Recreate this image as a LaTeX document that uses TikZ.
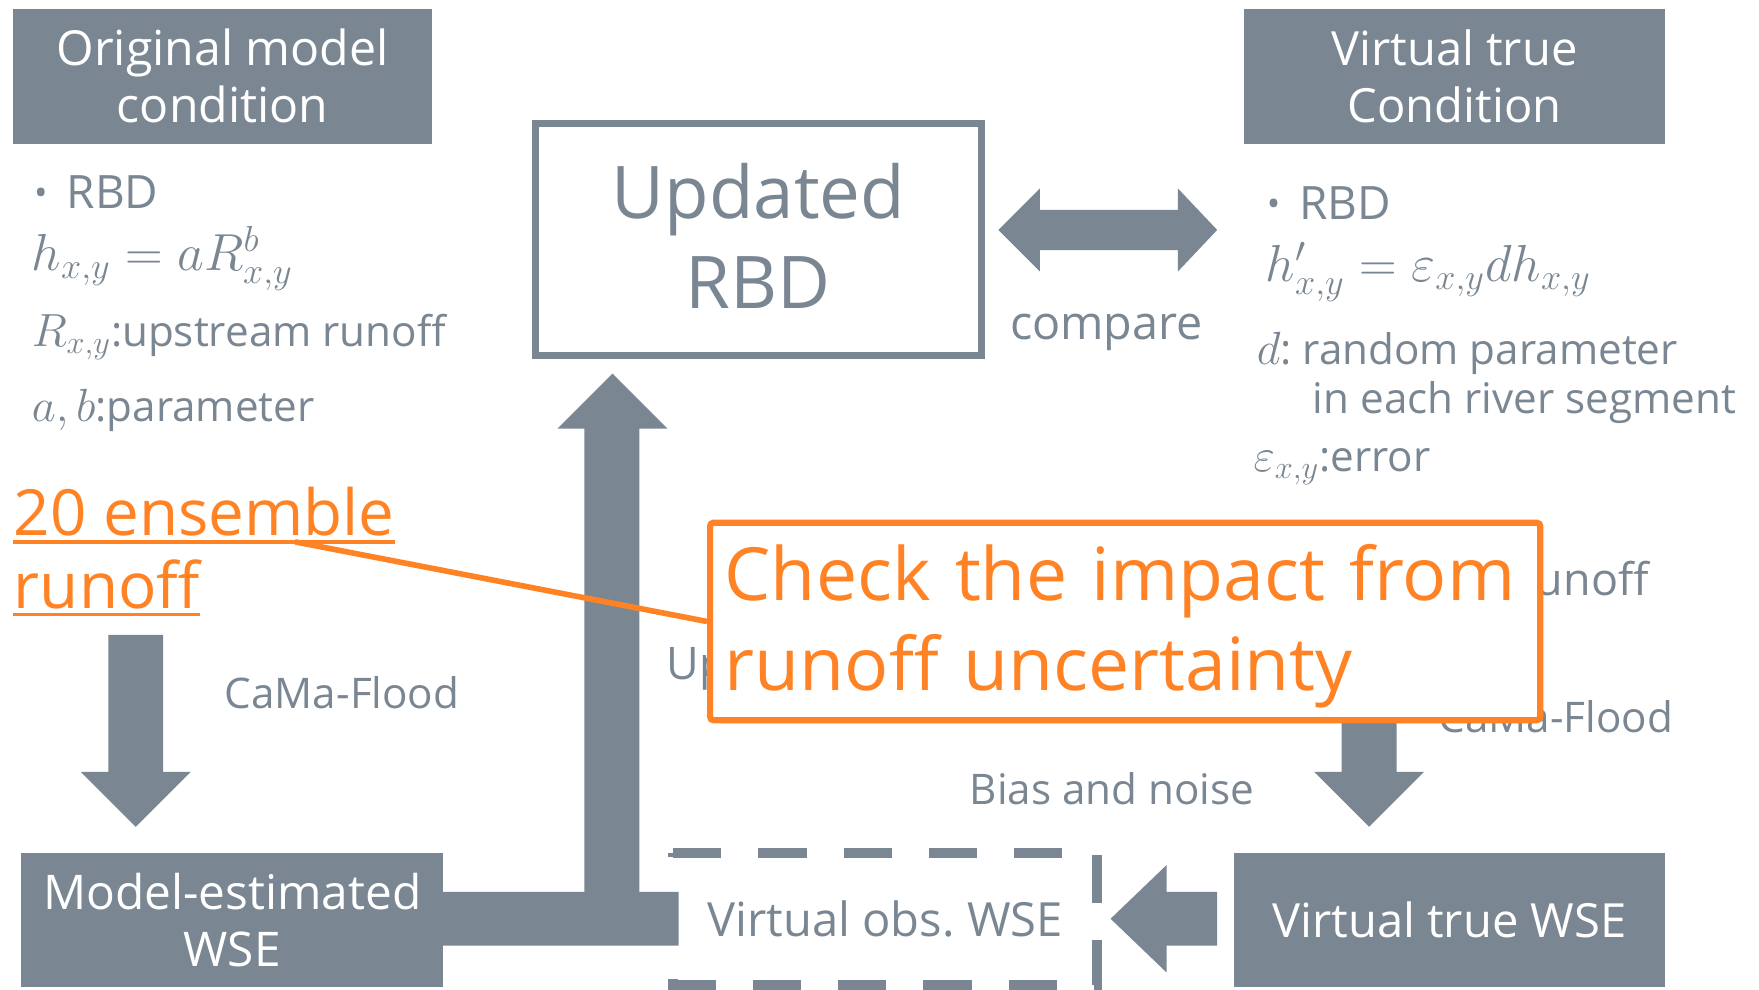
\documentclass[tikz,border=0pt]{standalone}
\usepackage{graphicx}
\usepackage{fontspec}
\setmainfont{Open Sans}
\usetikzlibrary{calc}
\definecolor{slate}{RGB}{122,135,147}
\definecolor{tangerine}{RGB}{255,131,36}
\newcommand\fsz[2]{\fontsize{#1pt}{#2pt}\selectfont}
\newcommand\rbdbullet{\makebox[14.5pt][l]{\raisebox{1.5pt}{\fontsize{16pt}{16pt}\selectfont •}}}
% formulas are set a little larger than the surrounding text
\newcommand\fm[1]{{\fontsize{20.7pt}{24pt}\selectfont$#1$}}
\newcommand\fmbig[1]{\scalebox{1.12}{\fm{#1}}}
\frenchspacing

\begin{document}
\begin{tikzpicture}[x=0.5pt,y=-0.5pt,
  graybox/.style={fill=slate,text=white,inner sep=0pt,align=center},
  bodytext/.style={text=slate,inner sep=0pt,anchor=base west},
  blockarrow/.style={fill=slate},
]
\useasboundingbox (0,0) rectangle (1568,882);
\fill[white] (0,0) rectangle (1568,882);

% headline boxes
\node[graybox,minimum width=186.5pt,minimum height=60pt,font=\fsz{21.5}{25.5}] (orig) at (198.5,68) {Original model\\condition};
\node[graybox,minimum width=187.5pt,minimum height=60pt,font=\fsz{21}{25.5}] (vtc) at (1296.5,68) {Virtual true\\Condition};
\node[graybox,minimum width=188pt,minimum height=60pt,font=\fsz{21.3}{25.5}] (mwse) at (207,820) {Model-estimated\\WSE};
\node[graybox,minimum width=192pt,minimum height=60pt,font=\fsz{21}{25}] (vtwse) at (1292,820) {Virtual true WSE};

% left column
\node[bodytext,font=\fsz{20.5}{24}] (rbdL) at (30,186) {\rbdbullet RBD};
\node[bodytext,font=\fsz{20.5}{24}] (fL) at (28,241) {\fmbig{h_{x,y} = aR^{b}_{x,y}}};
\node[bodytext,font=\fsz{18.8}{22}] (rL) at (28,309) {\fm{R_{x,y}}:upstream runoff};
\node[bodytext,font=\fsz{18.8}{22}] (abL) at (28,376) {\fm{a,b}:parameter};

% right column
\node[bodytext,font=\fsz{20.5}{24}] (rbdR) at (1129,196) {\rbdbullet RBD};
\node[bodytext,font=\fsz{20.5}{24}] (fR) at (1128,251) {\fmbig{h'_{x,y} = \varepsilon_{x,y} d h_{x,y}}};
\node[bodytext,font=\fsz{18.8}{22}] (dR) at (1120,325) {\fm{d}: random parameter};
\node[bodytext,font=\fsz{18.8}{22}] (segR) at (1170,369) {in each river segment};
\node[bodytext,font=\fsz{18.8}{22}] (eR) at (1117,420) {\fm{\varepsilon_{x,y}}:error};
\node[bodytext,font=\fsz{20}{24},anchor=base east] (rnR) at (1470,531) {Original runoff};
\node[bodytext,font=\fsz{18.8}{22}] (cfR) at (1282,653) {CaMa-Flood};

% middle labels
\node[bodytext,font=\fsz{20.8}{24}] (cmp) at (900,303) {compare};
\node[bodytext,font=\fsz{18.8}{22}] (cfL) at (200,632) {CaMa-Flood};
\node[bodytext,font=\fsz{18.8}{22}] (bias) at (864,717) {Bias and noise};
\node[bodytext,font=\fsz{20}{24}] (upd) at (594,606) {Update};

% runoff ensemble label
\node[bodytext,text=tangerine,font=\fsz{28.4}{32}] (ens1) at (12,477) {20 ensemble};
\node[bodytext,text=tangerine,font=\fsz{28.4}{32}] (ens2) at (12,542) {runoff};
\draw[tangerine,line width=1.5pt] ($(ens1.base west)+(0,6)$) -- ($(ens1.base east)+(0,6)$);
\draw[tangerine,line width=1.5pt] ($(ens2.base west)+(0,6)$) -- ($(ens2.base east)+(0,6)$);

% block arrows
\coordinate (a1) at (121,566);
\fill[blockarrow,shift={(a1)}] (-24.5,0) -- (24.5,0) -- (24.5,122) -- (49,122) -- (0,171) -- (-49,122) -- (-24.5,122) -- cycle;
\coordinate (a2) at (1220.5,620);
\fill[blockarrow,shift={(a2)}] (-24.5,0) -- (24.5,0) -- (24.5,68) -- (49,68) -- (0,117) -- (-49,68) -- (-24.5,68) -- cycle;
\fill[blockarrow] (395,795) -- (521,795) -- (521,382) -- (497,382) -- (546,333) -- (595,382) -- (570,382) -- (570,795) -- (605,795) -- (605,843) -- (395,843) -- cycle;
\fill[blockarrow] (1085,795) -- (1040,795) -- (1040,771) -- (990,819) -- (1040,867) -- (1040,843) -- (1085,843) -- cycle;
\fill[blockarrow] (890,205) -- (927,168) -- (927,187) -- (1050,187) -- (1050,168) -- (1085,205) -- (1050,242) -- (1050,223) -- (927,223) -- (927,242) -- cycle;

% observation box and updated parameter box
\draw[slate,line width=4.5pt,dash pattern=on 21.5pt off 16.5pt] (600,760) -- (978,760) -- (978,878) -- (600,878) -- cycle;
\node[text=slate,inner sep=0pt,font=\fsz{21}{25}] (vobs) at (789,819) {Virtual obs. WSE};
\node[draw=slate,line width=3.25pt,fill=white,minimum width=198.75pt,minimum height=103.25pt,inner sep=0pt,text=slate,font=\fsz{32.4}{40},align=center] (rbd) at (676,213.5) {Updated\\RBD\rule[-3pt]{0pt}{3pt}};

% highlight callout
\coordinate (ul) at (263,483);
\node[draw=tangerine,line width=2.75pt,fill=white,rounded corners=1.5pt,minimum width=370pt,minimum height=88pt,text width=357pt,inner xsep=6.5pt,inner ysep=0pt,align=left,text=tangerine,font=\fsz{32.7}{40}] (chk) at (1003,554) {\rule{0pt}{29pt}Check the impact from\\runoff uncertainty};
\draw[tangerine,line width=2.5pt] (ul) -- (chk.west);
\end{tikzpicture}
\end{document}
